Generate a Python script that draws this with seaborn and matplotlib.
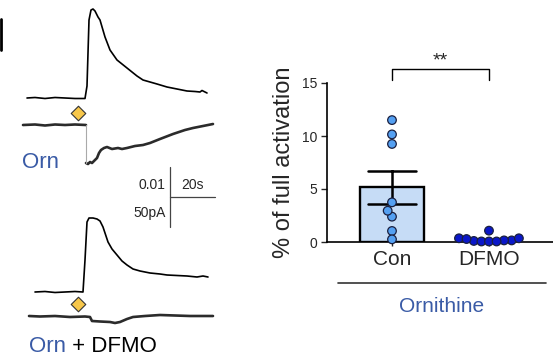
import numpy as np
import pandas as pd
import matplotlib
matplotlib.use('Agg')
import matplotlib.pyplot as plt
import seaborn as sns

# valores del grafico de barras
grupos = ['Con', 'DFMO']
con_vals = [11.5, 10.15, 9.25, 3.74, 2.39, 2.95, 1.04, 0.25]
dfmo_vals = [0.1, 0.35, 0.15, 0.35, 0.05, 0.28, 0.15, 0.05, 1.07, 0.05]
y_ticks = [0, 5, 10, 15]

# trazos (coordenadas en pixeles del panel izquierdo)
top_x = [27, 35, 45, 55, 65, 75, 85, 87, 89, 91, 93, 95, 98, 100, 105, 110, 117, 127, 137,
         143, 157, 167, 177, 187, 195, 200, 202, 207]
top_y = [98, 97.5, 98.5, 97.5, 98, 98.5, 98.5, 86, 20, 10, 9, 11, 17, 20, 37, 50, 60, 68, 76,
         80, 84, 87, 89, 91, 91.5, 92, 90.5, 93]
cur1_x = [23, 35, 45, 55, 65, 75, 86]
cur1_y = [125, 124.5, 125.5, 124.5, 125, 124.5, 125]
cur2_x = [86, 88, 90, 92, 95, 97, 99, 101, 104, 107, 112, 118, 122, 127, 135, 143, 150,
          160, 173, 185, 193, 203, 213]
cur2_y = [163, 164, 162, 163, 160, 158, 153, 150, 148, 147, 149, 148, 149, 148, 146, 145,
          143, 139, 134, 130, 128, 126, 124]
bot_x = [35, 45, 55, 65, 75, 83, 85, 87, 89, 93, 97, 100, 103, 106, 108, 112, 117, 122, 127,
         133, 140, 150, 160, 167, 177, 187, 197, 203, 208]
bot_y = [292, 291.5, 292.5, 292, 291.5, 292, 260, 222, 218, 218, 219, 221, 227, 236, 242,
         249, 255, 261, 265, 269, 271, 273, 274, 275, 275.5, 276, 277, 276, 277]
cur3_x = [29, 40, 55, 70, 85, 90, 92, 100, 110, 115, 120, 127, 133, 145, 160, 175, 190, 213]
cur3_y = [316, 316.5, 316, 317, 316.5, 317, 321, 321.5, 322, 323, 322, 319, 317, 316, 315,
          315.5, 316, 316]
diam_x = [78, 78]
diam_y = [113, 304]

sns.set_theme(style='ticks')
plt.rcParams['font.family'] = ['Liberation Sans', 'DejaVu Sans']
azul = '#3a5ba6'

fig = plt.figure(figsize=(5.53, 3.64), dpi=100)
ax0 = fig.add_axes([0, 0, 1, 1])
ax0.set_xlim(0, 553)
ax0.set_ylim(364, 0)
ax0.axis('off')
ax0.patch.set_alpha(0)

sns.lineplot(x=top_x, y=top_y, sort=False, estimator=None, color='black', lw=1.2, ax=ax0)
sns.lineplot(x=bot_x, y=bot_y, sort=False, estimator=None, color='black', lw=1.2, ax=ax0)
for xs, ys in [(cur1_x, cur1_y), (cur2_x, cur2_y), (cur3_x, cur3_y)]:
    sns.lineplot(x=xs, y=ys, sort=False, estimator=None, color='#2b2b2b', lw=1.9, ax=ax0)
ax0.plot([86, 86], [125, 163], color='#aaaaaa', lw=0.8)
sns.scatterplot(x=diam_x, y=diam_y, marker='D', s=55, color='#f7c74a',
                edgecolor='#333333', linewidth=0.8, ax=ax0, zorder=5)

# barra de escala
ax0.plot([1.3, 1.3], [19, 50], color='black', lw=2)
ax0.plot([170, 170], [167, 227], color='#444444', lw=0.9)
ax0.plot([170, 215], [197, 197], color='#444444', lw=0.9)
ax0.text(165, 185, '0.01', ha='right', va='center', fontsize=10)
ax0.text(193, 185, '20s', ha='center', va='center', fontsize=10)
ax0.text(166, 213, '50pA', ha='right', va='center', fontsize=10)

ax0.text(22, 162, 'Orn', ha='left', va='center', fontsize=16, color=azul)
t = ax0.text(29, 347, 'Orn', ha='left', va='center', fontsize=16, color=azul)
ax0.annotate(' + DFMO', xycoords=t, xy=(1, 0), va='bottom', ha='left', fontsize=16,
             color='black')

ax0.plot([338, 546], [283, 283], color='#333333', lw=1.2)
ax0.text(442, 307, 'Ornithine', ha='center', va='center', fontsize=15, color=azul)

# grafico de barras
df = pd.DataFrame({'grupo': ['Con'] * len(con_vals) + ['DFMO'] * len(dfmo_vals),
                   'valor': con_vals + dfmo_vals})
ax = fig.add_axes([327 / 553, (364 - 242) / 364, (553 - 327) / 553, (242 - 83) / 364])
ax.patch.set_alpha(0)
sns.barplot(data=df[df.grupo == 'Con'], x='grupo', y='valor', order=grupos, errorbar='se',
            capsize=0.5, width=0.65, color='#c6dcf6', saturation=1, edgecolor='black',
            linewidth=1.7, err_kws={'color': 'black', 'linewidth': 1.8}, ax=ax)
n_prev = len(ax.collections)
# el enjambre se calcula con puntos chicos (se solapan como en el original)
sns.swarmplot(data=df, x='grupo', y='valor', order=grupos, hue='grupo',
              palette={'Con': '#54a0f2', 'DFMO': '#0a17c9'}, size=4.3,
              edgecolor='#1a2040', linewidth=0.9, legend=False, ax=ax, zorder=4)
ax.set_xlim(-0.67, 1.66)
ax.set_ylim(0, 15)
fig.canvas.draw()
for c in ax.collections[n_prev:]:
    if 'draw' in c.__dict__:
        del c.draw
    c.set_sizes([6.2 ** 2])
    c.set_clip_on(False)

ax.set_yticks(y_ticks)
ax.set_xlabel('')
ax.set_ylabel('% of full activation', fontsize=17, labelpad=5)
ax.tick_params(axis='y', labelsize=10, length=4.5, width=1, pad=2.5)
ax.tick_params(axis='x', labelsize=15, length=3, width=1, pad=3)
sns.despine(ax=ax)
for s in ['left', 'bottom']:
    ax.spines[s].set_linewidth(1.2)
    ax.spines[s].set_color('black')

# corchete de significancia
ax.plot([0, 0, 1, 1], [15.3, 16.3, 16.3, 15.3], color='black', lw=1, clip_on=False)
ax.text(0.5, 17.1, '**', ha='center', va='center', fontsize=14, clip_on=False)

fig.savefig('out.png', dpi=100)
